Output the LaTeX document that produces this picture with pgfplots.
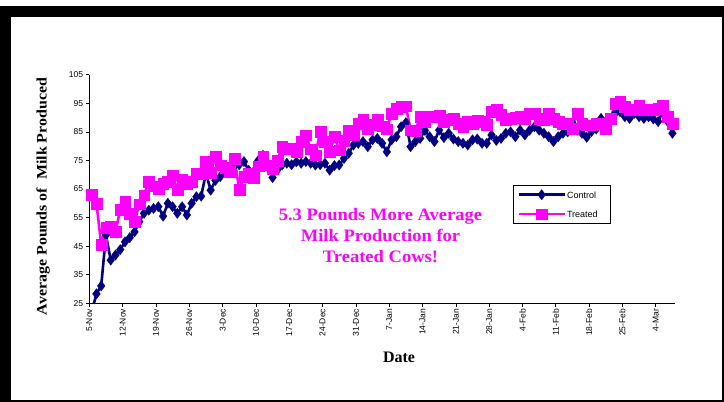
\documentclass[border=0pt]{standalone}
\usepackage{pgfplots}
\pgfplotsset{compat=1.18}
\usepackage{pgfplotstable}
\usepackage{graphicx}
\usepackage{fontspec}
\setmainfont{Liberation Serif}
\setsansfont{Liberation Sans}
\definecolor{ctrl}{RGB}{0,0,128}
\definecolor{trt}{RGB}{255,0,255}

\pgfplotstableread{
i c t
0 22 63
1 28.3 60
2 31.1 45.7
3 48.9 51.5
4 40.1 51.8
5 41.9 50
6 43.8 57.8
7 46.5 60.5
8 48 56.4
9 50 53.5
10 53.5 59.7
11 56.5 62.9
12 57.6 67.5
13 58.2 66
14 58.8 65.2
15 55.5 67
16 60 67.5
17 58.8 69.9
18 56.5 64.6
19 58.8 68.3
20 55.9 67
21 60 67.5
22 62.3 70.4
23 62.5 70.4
24 70.5 74.6
25 64.6 70.7
26 68 76.5
27 69.3 73.4
28 71 72.5
29 72.3 71
30 73 75.7
31 73.5 64.8
32 74.6 69.3
33 71.5 70.5
34 71 69
35 75 73
36 76.8 76.3
37 74 73.4
38 69 72.2
39 71.7 75
40 73.4 79.8
41 74 79
42 73.5 79.2
43 74.5 78
44 74 81.6
45 74.6 83.9
46 74 79
47 73.4 76.9
48 73.5 85.1
49 74 81.6
50 71.6 78
51 73.2 83.3
52 73.4 78.6
53 75.7 82
54 77.5 85.6
55 80.4 84
56 81 88
57 81.6 89.2
58 79.8 86
59 82.2 87.5
60 82.7 89.2
61 81 87
62 78 86
63 82.2 91.5
64 83.3 93.2
65 86.8 93.8
66 88.2 94
67 79.8 85.6
68 81.6 85.4
69 82.7 90.3
70 85.5 88.5
71 83.3 90.3
72 81.6 90.3
73 85.6 90.9
74 83 88.5
75 84.5 89.2
76 82.5 89.7
77 81.6 88
78 81 86.8
79 80.4 88.6
80 82.2 88
81 82.5 89
82 81 88.5
83 81 87.5
84 83.9 92.1
85 82 92.7
86 82.7 91
87 84.5 89.2
88 85 89.7
89 83.3 90
90 85.6 90.3
91 83.9 89.5
92 85.6 91.5
93 86.8 91.5
94 85.6 89.7
95 84.5 89.2
96 83.3 91.5
97 81.6 89.7
98 83.3 88.6
99 84.5 88
100 85 88
101 88 86.2
102 85.6 91.5
103 84.5 88
104 83.1 87.4
105 85.1 87.4
106 86 88
107 89.7 88
108 88 86.2
109 89 89.7
110 91.5 95
111 92 95.6
112 90.3 93.8
113 89.7 92.7
114 91.5 92.7
115 90.3 94.4
116 89.7 92.7
117 90.3 92.7
118 89.5 92.7
119 88.6 93.2
120 92.1 94.4
121 88.6 90.3
122 84.5 88
}\milk

\begin{document}
\begin{tikzpicture}[x=1pt,y=1pt]
\useasboundingbox (0pt,0pt) rectangle (724pt,402pt);
\fill[black] (0pt,0pt) rectangle (724pt,2pt);
\fill[black] (0pt,0pt) rectangle (11pt,396pt);
\fill[black] (0pt,385pt) rectangle (724pt,396pt);
\fill[black] (721.7pt,0pt) rectangle (724pt,396pt);
\begin{axis}[
  at={(89.3pt,98.7pt)}, anchor=south west,
  scale only axis, width=585.5pt, height=228.6pt,
  xmin=0, xmax=123, ymin=25, ymax=105,
  axis x line=bottom, axis y line=left,
  axis line style={-, black, line width=0.8pt},
  xtick={0,7,...,119},
  xticklabels={5-Nov,12-Nov,19-Nov,26-Nov,3-Dec,10-Dec,17-Dec,24-Dec,31-Dec,7-Jan,14-Jan,21-Jan,28-Jan,4-Feb,11-Feb,18-Feb,25-Feb,4-Mar},
  ytick={25,35,...,105},
  tick align=outside, major tick length=3.5pt,
  tick style={black, line width=0.6pt},
  xticklabel style={rotate=90, anchor=east, font=\sffamily\fontsize{8.5}{9}\selectfont, inner sep=2pt},
  yticklabel style={font=\sffamily\fontsize{8.5}{9}\selectfont, inner sep=2.5pt},
  /pgf/number format/assume math mode=true,
  legend cell align=left,
  legend style={at={(axis cs:89.0,66.4)}, anchor=north west, draw=black, line width=0.9pt,
    font=\sffamily\fontsize{9}{10}\selectfont, inner xsep=4pt, inner ysep=4pt, row sep=8.5pt,
    nodes={inner sep=1pt, text depth=0pt}},
  legend image code/.code={\draw[mark repeat=2,mark phase=2] plot coordinates {(0pt,0pt) (23pt,0pt) (46pt,0pt)};},
]
\addplot[color=ctrl, line width=2.6pt, mark=diamond*, mark size=5.3pt,
  mark options={solid, line width=0.1pt, fill=ctrl}] table[x expr=\thisrow{i}+0.5, y=c] {\milk};
\addlegendentry{\makebox[38pt][l]{Control}}
\addplot[color=trt, line width=2.6pt, mark=square*, mark size=5.4pt,
  mark options={solid, line width=0.1pt, fill=trt}] table[x expr=\thisrow{i}+0.5, y=t] {\milk};
\addlegendentry{\makebox[38pt][l]{Treated}}
\end{axis}
\node[align=center, text=trt, font=\bfseries\fontsize{17.5}{21}\selectfont, xscale=1.06] at (380.5pt,166pt) {5.3 Pounds More Average\\Milk Production for\\Treated Cows!};
\node[rotate=90, font=\bfseries\fontsize{14.5}{16}\selectfont] at (43pt,205.5pt) {\scalebox{1.1}[1]{Average Pounds of\ \ Milk Produced}};
\node[font=\bfseries\fontsize{16}{18}\selectfont] at (399pt,45pt) {Date};
\end{tikzpicture}
\end{document}
